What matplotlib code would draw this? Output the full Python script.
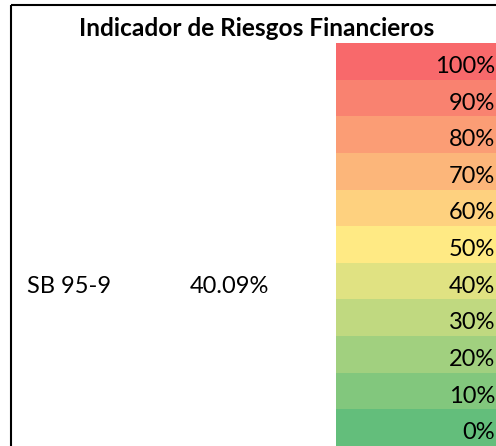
import numpy as np
import matplotlib
matplotlib.use("Agg")
import matplotlib.pyplot as plt
from matplotlib.colors import LinearSegmentedColormap

# Data
title = "Indicador de Riesgos Financieros"
levels = [100, 90, 80, 70, 60, 50, 40, 30, 20, 10, 0]
entity = "SB 95-9"
entity_value = 40.09

# Excel-style 3-colour scale (green - yellow - red)
cmap = LinearSegmentedColormap.from_list(
    "excel_rg", ["#63BE7B", "#FFEB84", "#F8696B"])

# Layout in pixels
W, H = 496, 446
ROW_TOP = 43
ROW_H = (H - ROW_TOP) / len(levels)
COL_X = 336
TEXT_PAD = 6.7
FONT = "Lato"

fig = plt.figure(figsize=(W / 100, H / 100), dpi=100)
ax = fig.add_axes([0, 0, 1, 1])
ax.set_xlim(0, W)
ax.set_ylim(H, 0)
ax.axis("off")

# colour scale column
for i, lvl in enumerate(levels):
    y = ROW_TOP + i * ROW_H
    ax.barh(y, W - COL_X, left=COL_X, height=ROW_H, align="edge",
            color=cmap(lvl / 100), linewidth=0)
    ax.text(W - 1, y + ROW_H - TEXT_PAD, f"{lvl}%", ha="right", va="baseline",
            fontsize=17, family=FONT, color="black")

# entity row sits next to the matching band
row = levels.index(int(entity_value // 10 * 10))
y_base = ROW_TOP + (row + 1) * ROW_H - TEXT_PAD
ax.text(27, y_base, entity, ha="left", va="baseline", fontsize=17, family=FONT)
ax.text(190, y_base, f"{entity_value:.2f}%", ha="left", va="baseline",
        fontsize=17, family=FONT)

# title
ax.text(256.5, ROW_TOP - 7, title, ha="center", va="baseline", fontsize=17.6,
        fontweight="bold", family=FONT)

# borders
ax.plot([11, 11], [5, H], color="black", linewidth=1.5, solid_capstyle="butt")
ax.plot([11, W], [5, 5], color="black", linewidth=1.5, solid_capstyle="butt")

fig.savefig("out.png", dpi=100)
